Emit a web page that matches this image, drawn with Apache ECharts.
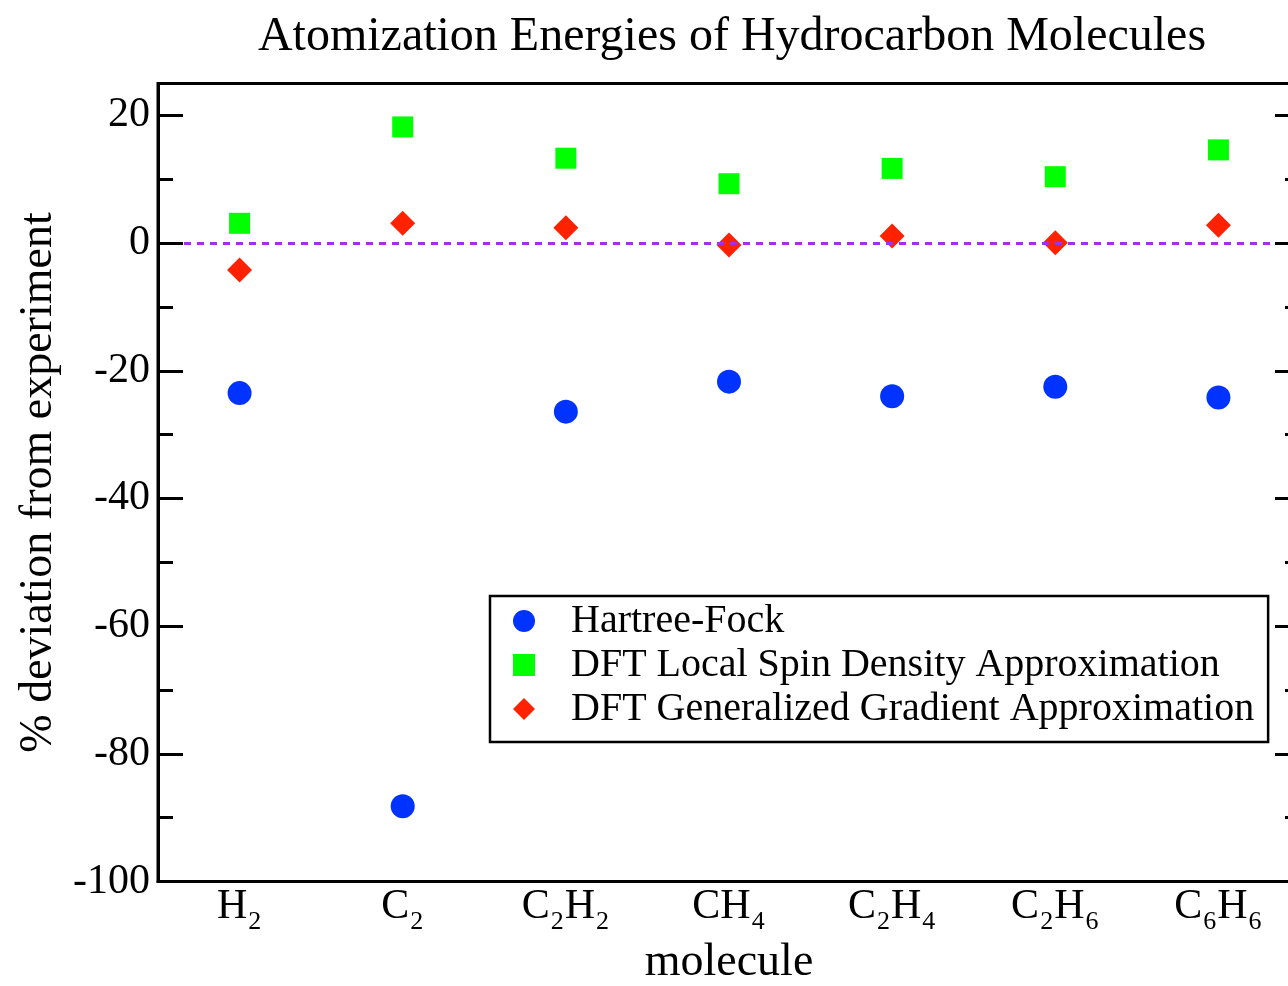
<!DOCTYPE html>
<html><head><meta charset="utf-8">
<script src="https://cdn.jsdelivr.net/npm/echarts@6/dist/echarts.min.js"></script>
<style>html,body{margin:0;padding:0;background:#fff}#c{width:1288px;height:986px}</style>
</head><body><div id="c"></div>
<script>
const categories = ['H2', 'C2', 'C2H2', 'CH4', 'C2H4', 'C2H6', 'C6H6'];
const hartreeFock = [-23.5, -88.2, -26.4, -21.7, -24.0, -22.5, -24.2];
const lsda = [3.1, 18.2, 13.3, 9.3, 11.7, 10.4, 14.6];
const gga = [-4.2, 3.1, 2.4, -0.3, 1.1, 0.05, 2.8];
const seriesNames = ['Hartree-Fock', 'DFT Local Spin Density Approximation', 'DFT Generalized Gradient Approximation'];
const yMin = -100, yMax = 25, yMajor = 20, yMinor = 10;

const FONT = '"Liberation Serif", "DejaVu Serif", serif';
const chart = echarts.init(document.getElementById('c'), null, {renderer: 'canvas'});

function yAxisDef(position, interval, tickLen, withLabels, withName) {
  return {
    type: 'value', position: position, min: yMin, max: yMax, interval: interval, z: 5,
    name: withName ? '% deviation from experiment' : '',
    nameLocation: 'middle', nameGap: 96,
    nameTextStyle: {fontFamily: FONT, fontSize: 46, color: '#000'},
    axisLine: {show: withLabels, onZero: false, lineStyle: {color: '#000', width: 3}},
    axisTick: {show: true, inside: true, length: tickLen, lineStyle: {color: '#000', width: 3}},
    axisLabel: {show: withLabels, fontFamily: FONT, fontSize: 42, color: '#000', margin: 8,
      formatter: function (v) { return (v % yMajor === 0) ? String(v) : ''; }},
    splitLine: {show: false}
  };
}

function molLabel(v) {
  return v.replace(/([A-Za-z]+)/g, '{m|$1}').replace(/(\d+)/g, '{s|$1}');
}

chart.setOption({
  animation: false,
  backgroundColor: '#fff',
  title: {
    text: 'Atomization Energies of Hydrocarbon Molecules',
    left: 727, top: 8, textAlign: 'center',
    textStyle: {fontFamily: FONT, fontSize: 48, fontWeight: 'normal', color: '#000'}
  },
  grid: {left: 158, right: -12, top: 83.5, bottom: 104.5, show: true, borderColor: '#000', borderWidth: 3,
    containLabel: false, outerBoundsMode: 'none'},
  legend: {
    orient: 'vertical', left: 490, top: 596,
    data: seriesNames,
    padding: [4, 14, 12, 23], itemGap: 2, itemWidth: 22, itemHeight: 22,
    borderColor: '#000', borderWidth: 2.5, backgroundColor: '#fff',
    textStyle: {fontFamily: FONT, fontSize: 40, color: '#000', lineHeight: 42, padding: [0, 0, 0, 31]}
  },
  xAxis: {
    type: 'category', data: categories, boundaryGap: true, z: 5,
    name: 'molecule', nameLocation: 'middle', nameGap: 57,
    nameTextStyle: {fontFamily: FONT, fontSize: 46, color: '#000'},
    axisLine: {show: true, onZero: false, lineStyle: {color: '#000', width: 3}},
    axisTick: {show: false},
    axisLabel: {
      margin: 4, color: '#000', formatter: molLabel,
      rich: {
        m: {fontFamily: FONT, fontSize: 42, lineHeight: 44, verticalAlign: 'top', color: '#000'},
        s: {fontFamily: FONT, fontSize: 26, lineHeight: 44, padding: [24, 1, 0, 1], verticalAlign: 'top', color: '#000'}
      }
    },
    splitLine: {show: false}
  },
  yAxis: [
    yAxisDef('left', yMajor, 25, true, true),
    yAxisDef('left', yMinor, 15, false, false),
    yAxisDef('right', yMajor, 25, false, false),
    yAxisDef('right', yMinor, 15, false, false)
  ],
  series: [
    {
      name: 'zero', type: 'line', data: [], z: 1, silent: true,
      markLine: {silent: true, symbol: 'none', label: {show: false},
        lineStyle: {color: '#a030f0', type: [7, 6], width: 3, opacity: 1},
        data: [{yAxis: 0}]}
    },
    {name: seriesNames[0], type: 'scatter', data: hartreeFock, z: 3, symbol: 'circle', symbolSize: 24,
      itemStyle: {color: '#0033ff', opacity: 1}},
    {name: seriesNames[1], type: 'scatter', data: lsda, z: 3, symbol: 'rect', symbolSize: 21,
      itemStyle: {color: '#00ff00', opacity: 1}},
    {name: seriesNames[2], type: 'scatter', data: gga, z: 3, symbol: 'diamond', symbolSize: 25,
      itemStyle: {color: '#ff2200', opacity: 1}}
  ]
});
</script>
</body></html>
